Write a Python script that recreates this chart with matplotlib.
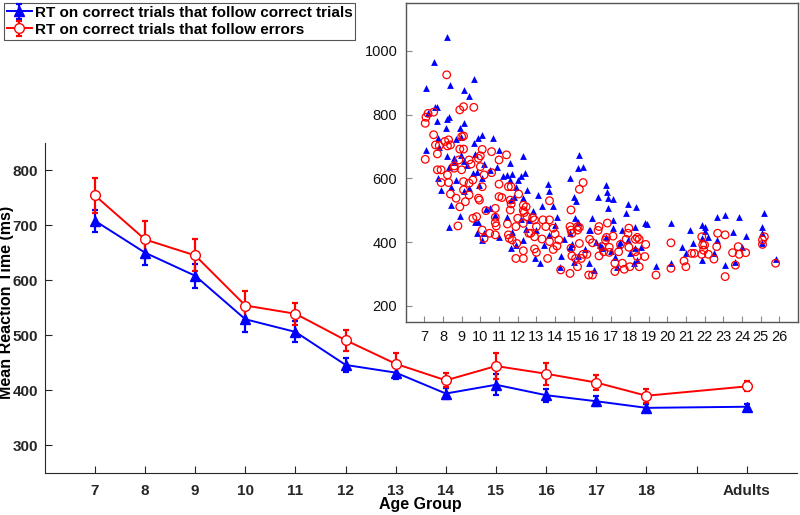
import numpy as np
import matplotlib.pyplot as plt

plt.rcParams['font.family'] = ['Liberation Sans', 'DejaVu Sans']

# main chart: group means and error bars
age_labels = ["7", "8", "9", "10", "11", "12", "13", "14", "15", "16", "17", "18", "Adults"]
age_pos = [7, 8, 9, 10, 11, 12, 13, 14, 15, 16, 17, 18, 20]
rt_cc = [708, 650, 608, 529, 506, 446, 432, 394, 410, 391, 380, 368, 370]
err_cc = [20, 22, 22, 24, 19, 12, 12, 10, 19, 12, 9, 7, 5]
rt_ce = [754, 674, 645, 554, 539, 491, 448, 418, 444, 430, 414, 390, 407]
err_ce = [31, 34, 29, 27, 20, 19, 20, 13, 23, 20, 14, 13, 9]

# inset: individual participants (age in years, RT in ms)
cc_age = [8.2, 7.5, 7.09, 8.4, 9.65, 7.6, 7.68, 9.1, 9.4, 7.2, 7.7, 8.3, 8.2, 8.16, 8.9, 9.1,
          7.1, 7.75, 7.8, 8.7, 8.97, 9.9, 10.1, 9.65, 10.7, 11.0, 8.24, 8.6, 8.6, 8.97, 9.15, 9.3,
          9.7, 10.2, 12.3, 8.3, 7.75, 7.9, 8.45, 8.7, 9.15, 9.4, 9.95, 8.44, 8.9, 8.3, 9.6, 9.8,
          10.1, 11.2, 11.4, 11.7, 11.6, 11.9, 12.0, 12.2, 12.4, 12.5, 10.9, 11.6, 10.5, 11.8,
          11.65, 12.3, 13.1, 13.6, 13.7, 13.9, 13.3, 12.8, 10.8, 11.4, 10.3, 10.5, 9.7, 9.9, 9.8,
          10.2, 10.1, 11.0, 11.7, 11.65, 11.9, 12.3, 12.45, 12.2, 12.6, 13.0, 13.4, 12.9, 13.2,
          13.7, 14.0, 14.1, 14.3, 14.26, 14.8, 15.2, 15.3, 15.5, 15.0, 15.1, 14.8, 15.05, 15.2,
          14.8, 15.0, 15.2, 15.85, 16.0, 15.8, 16.1, 16.3, 16.7, 16.8, 16.85, 17.1, 16.85, 17.1,
          16.7, 16.5, 17.2, 17.3, 17.8, 17.9, 18.35, 17.6, 17.9, 18.3, 18.6, 18.8, 18.3, 18.0,
          18.4, 18.2, 19.4, 20.2, 20.2, 20.8, 21.0, 21.2, 21.4, 21.85, 22.0, 21.85, 21.85, 22.0,
          22.2, 22.5, 22.65, 22.65, 23.1, 23.1, 23.5, 23.65, 23.85, 24.0, 24.2, 25.1, 25.1, 25.2,
          25.1, 25.8, 16.4, 16.5, 17.5, 15.8, 17.1, 18.9, 14.5, 14.9, 15.6, 16.2, 17.0, 17.4]
cc_rt = [1043, 964, 883, 893, 911, 825, 825, 878, 859, 804, 781, 794, 786, 757, 757, 773,
         689, 726, 700, 723, 731, 726, 737, 710, 728, 689, 670, 663, 650, 674, 654, 642,
         677, 645, 670, 637, 600, 564, 572, 595, 562, 571, 578, 517, 482, 447, 616, 621,
         600, 608, 611, 614, 595, 574, 595, 609, 616, 564, 635, 647, 627, 543,
         532, 538, 548, 583, 562, 514, 512, 499, 486, 480, 504, 508, 464, 464, 428,
         428, 407, 417, 433, 381, 391, 407, 441, 472, 470, 438, 391, 351, 335,
         423, 454, 478, 358, 323, 600, 632, 674, 637, 543, 530, 428, 475, 464,
         386, 339, 357, 438, 475, 334, 313, 543, 579, 558, 538, 536, 506, 470,
         417, 386, 355, 323, 492, 521, 509, 438, 407, 449, 386, 460, 381, 365,
         344, 334, 325, 460, 334, 386, 365, 438, 396, 454, 449, 412, 344, 435,
         417, 367, 478, 407, 486, 328, 433, 339, 480, 385, 419, 449, 430, 491,
         396, 346, 392, 382, 402, 439, 445, 458, 410, 395, 380, 400, 372, 390]

ce_age = [8.2, 7.09, 7.05, 7.2, 7.5, 7.05, 7.5, 7.6, 7.7, 7.8, 8.1, 8.3, 8.24, 8.4, 7.7, 7.9,
          7.9, 8.24, 8.3, 8.4, 8.7, 8.6, 8.6, 8.9, 9.1, 9.65, 9.0, 9.1, 8.9, 9.1, 8.85, 9.0,
          9.1, 9.1, 9.2, 8.9, 8.8, 9.4, 9.5, 9.4, 9.6, 9.4, 9.9, 10.0, 10.1, 10.0, 10.2, 10.1,
          9.9, 9.95, 9.6, 9.8, 10.3, 10.1, 10.2, 10.6, 10.6, 11.0, 11.4, 11.0, 11.0, 11.15,
          10.8, 10.8, 10.8, 10.85, 10.8, 10.5, 11.5, 11.65, 11.6, 11.65, 11.6, 11.45, 11.5,
          11.55, 11.7, 11.9, 12.0, 11.95, 11.9, 12.3, 12.3, 12.05, 12.3, 12.3, 12.45, 12.35,
          12.5, 12.3, 12.6, 12.7, 12.9, 12.9, 12.8, 13.0, 12.9, 13.0, 13.3, 13.35, 13.5, 13.7,
          13.7, 13.6, 13.7, 13.9, 14.0, 13.9, 14.1, 14.2, 14.3, 14.8, 14.85, 14.8, 14.85, 14.9,
          14.85, 14.9, 15.2, 15.2, 15.3, 15.1, 15.3, 15.4, 15.2, 15.5, 15.3, 15.5, 15.7, 15.8,
          16.0, 15.85, 16.0, 16.35, 16.3, 16.35, 16.5, 16.6, 16.7, 16.75, 16.8, 16.9, 16.9,
          17.1, 17.2, 17.2, 17.4, 17.5, 17.6, 17.7, 17.8, 17.9, 17.95, 17.95, 18.0, 18.3, 18.4,
          18.5, 18.3, 18.4, 18.5, 18.85, 18.8, 19.4, 20.2, 20.2, 20.9, 21.0, 21.3, 21.45, 21.85,
          21.9, 22.0, 21.95, 21.85, 22.2, 22.5, 22.65, 22.7, 23.1, 23.1, 23.5, 23.65, 23.8,
          23.85, 24.2, 25.1, 25.2, 25.1, 25.8]
ce_rt = [925, 792, 773, 804, 808, 660, 737, 705, 677, 703, 716, 721, 702, 705, 627, 627,
         587, 611, 587, 551, 538, 632, 639, 815, 825, 823, 731, 733, 692, 692, 658, 627,
         590, 564, 527, 511, 451, 658, 645, 585, 595, 548, 663, 671, 691, 637, 611, 574,
         538, 532, 475, 480, 499, 438, 412, 684, 618, 658, 674, 582, 543, 540,
         506, 478, 461, 451, 423, 428, 574, 574, 532, 520, 501, 457, 423,
         412, 407, 449, 475, 396, 349, 373, 349, 551, 516, 499, 511, 493,
         480, 459, 428, 428, 417, 470, 477, 449, 379, 368, 410, 470, 449, 470,
         530, 349, 402, 444, 426, 377, 388, 407, 313, 302, 501, 449, 438, 428,
         381, 357, 449, 438, 446, 349, 396, 349, 323, 587, 566, 362, 362, 297,
         297, 409, 398, 449, 437, 357, 386, 370, 407, 415, 460, 384, 368,
         419, 334, 308, 370, 393, 334, 315, 409, 428, 444, 384, 323, 409, 415,
         409, 370, 355, 323, 393, 355, 297, 398, 318, 341, 323, 365, 365, 417,
         391, 391, 375, 362, 362, 347, 386, 428, 423, 292, 367, 328, 386,
         362, 367, 407, 417, 393, 334]

blue = '#0000ff'
red = '#ff0000'

fig = plt.figure(figsize=(8, 5.15), dpi=100)

# ---- main axes
ax = fig.add_axes([0.056, 0.082, 0.94, 0.641])
ax.errorbar(age_pos, rt_cc, yerr=err_cc, color=blue, marker='^', markersize=7,
            markerfacecolor=blue, linewidth=1.4, capsize=2, elinewidth=1.6, capthick=1.6,
            label='RT on correct trials that follow correct trials')
ax.errorbar(age_pos, rt_ce, yerr=err_ce, color=red, marker='o', markersize=7,
            markerfacecolor='white', linewidth=1.4, capsize=2, elinewidth=1.6, capthick=1.6,
            label='RT on correct trials that follow errors')
ax.set_xlim(6, 21)
ax.set_ylim(250, 850)
ax.set_xticks(list(range(7, 21)))
ax.set_xticklabels(age_labels[:12] + [""] + ["Adults"])
ax.set_yticks([300, 400, 500, 600, 700, 800])
ax.spines['top'].set_visible(False)
ax.spines['right'].set_visible(False)
for s in ['left', 'bottom']:
    ax.spines[s].set_color('#262626')
    ax.spines[s].set_linewidth(0.8)
ax.tick_params(direction='in', length=5, width=0.8, color='#262626', labelsize=11)
ax.tick_params(axis='x', pad=8)
ax.tick_params(axis='y', pad=5)
for t in ax.get_xticklabels() + ax.get_yticklabels():
    t.set_fontweight('bold')
    t.set_color('#262626')
ax.set_xlabel('Age Group', fontsize=11.5, fontweight='bold')
ax.set_ylabel('Mean Reaction Time (ms)', fontsize=11.5, fontweight='bold')
ax.xaxis.set_label_coords(0.499, -0.074)
ax.yaxis.set_label_coords(-0.0415, 0.515)

leg = fig.legend(loc='upper left', bbox_to_anchor=(0.005, 0.995),
                 prop={'weight': 'bold', 'size': 11}, fancybox=False, edgecolor='#555555',
                 framealpha=1, handlelength=1.6, handletextpad=0.2, borderpad=0.2,
                 labelspacing=0.2, borderaxespad=0)
leg.get_frame().set_linewidth(0.8)

# ---- inset axes
ins = fig.add_axes([0.507, 0.375, 0.4905, 0.619])
ins.scatter(cc_age, cc_rt, marker='^', s=24, color=blue, linewidths=0, zorder=2)
ins.scatter(ce_age, ce_rt, marker='o', s=30, facecolors='none', edgecolors=red,
            linewidths=0.9, zorder=3)
ins.set_xlim(6, 27)
ins.set_ylim(150, 1150)
ins.set_xticks(list(range(7, 27)))
ins.set_yticks([200, 400, 600, 800, 1000])
for s in ins.spines.values():
    s.set_color('#555555')
    s.set_linewidth(1.0)
ins.tick_params(direction='in', length=4, width=0.8, color='#888888', labelsize=10.5, pad=6)
for t in ins.get_xticklabels() + ins.get_yticklabels():
    t.set_color('#111111')

fig.savefig('out.png', dpi=100)
